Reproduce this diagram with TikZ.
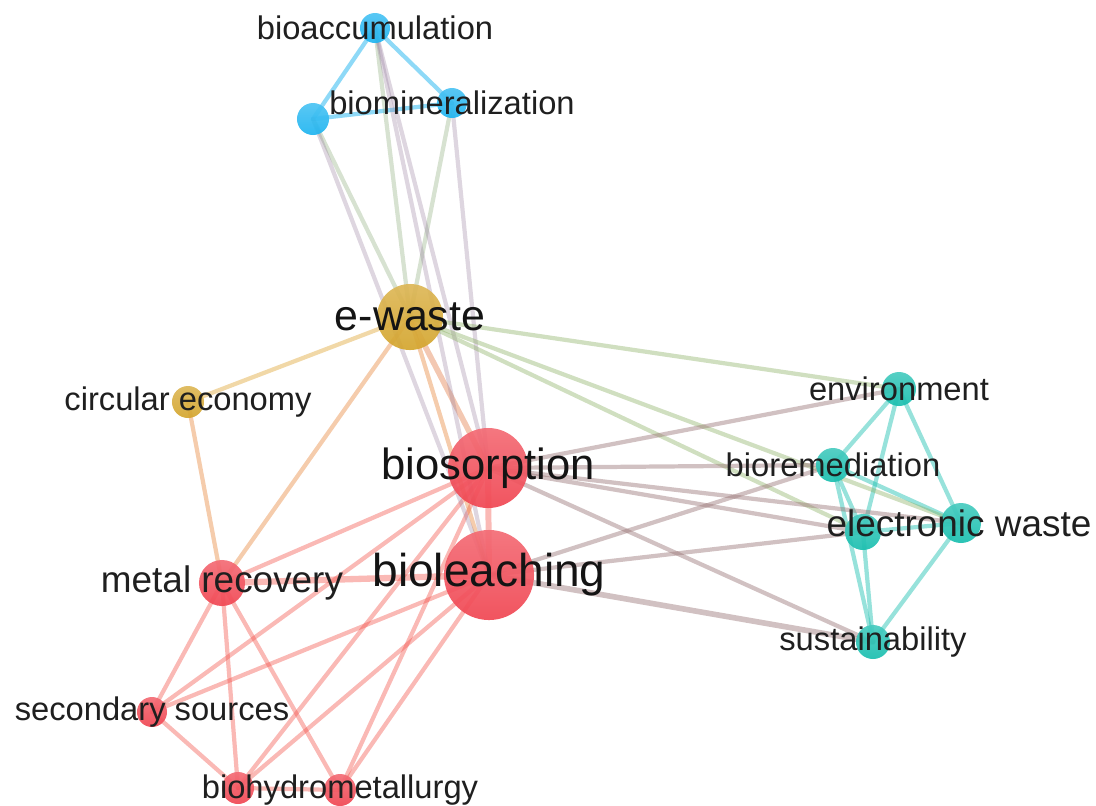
\documentclass[tikz,border=0pt]{standalone}
\usepackage{fontspec}
\setmainfont{Liberation Sans}
\usepackage{tikz}
\definecolor{kwred}{RGB}{240,70,82}
\definecolor{kwblue}{RGB}{30,180,240}
\definecolor{kwgold}{RGB}{212,165,45}
\definecolor{kwteal}{RGB}{25,190,175}

\tikzset{
  link/.style={line width=1.2pt, draw opacity=0.4, line cap=round},
  kw/.style={circle, inner sep=0pt, fill opacity=0.92},
  kwfill/.style={top color=#1!80!white, bottom color=#1},
  lbl/.style={font=\fontsize{9.3}{11}\selectfont, text=black!88},
  lblmid/.style={font=\fontsize{10.5}{12}\selectfont, text=black!88},
  lblbig/.style={font=\fontsize{12.4}{14}\selectfont, text=black!92}
}

\begin{document}
\begin{tikzpicture}[x=0.01cm, y=-0.01cm]
    \useasboundingbox (0,0) rectangle (1096,805);

    %% Keyword positions
    \coordinate (bacc) at (375,28);
    \coordinate (bmin) at (452,103);
    \coordinate (bhid) at (313,119);
    \coordinate (ewaste) at (410,317);
    \coordinate (circ) at (188,402);
    \coordinate (bsorp) at (488,468);
    \coordinate (bleach) at (489,575);
    \coordinate (mrec) at (222,583);
    \coordinate (secs) at (152,712);
    \coordinate (bhyd) at (340,790);
    \coordinate (bhydb) at (238,788);
    \coordinate (env) at (899,389);
    \coordinate (brem) at (833,465);
    \coordinate (ewst) at (961,523);
    \coordinate (ewstb) at (863,532);
    \coordinate (sust) at (873,642);

    %% Links inside clusters
    \foreach \a/\b in {bsorp/mrec, bsorp/secs, bsorp/bhyd, bsorp/bhydb, bleach/secs,
        bleach/bhyd, bleach/bhydb, mrec/secs, mrec/bhyd, mrec/bhydb, secs/bhydb, bhydb/bhyd}
        \draw[link, kwred!85!orange] (\a) -- (\b);
    \draw[link, kwred!85!orange, line width=1.7pt] (bsorp) -- (bleach);
    \draw[link, kwred!85!orange, line width=1.8pt] (bleach) -- (mrec);
    \foreach \a/\b in {bacc/bmin, bacc/bhid, bhid/bmin}
        \draw[link, kwblue, draw opacity=0.5] (\a) -- (\b);
    \foreach \a/\b in {env/brem, env/ewstb, env/ewst, brem/ewstb, brem/ewst,
        brem/sust, ewstb/ewst, ewstb/sust, ewst/sust}
        \draw[link, kwteal, draw opacity=0.45] (\a) -- (\b);
    \draw[link, kwgold!80!orange] (ewaste) -- (circ);

    %% Links between clusters
    \foreach \a/\b in {ewaste/bleach, ewaste/mrec, circ/mrec}
        \draw[link, kwred!40!kwgold!80!orange] (\a) -- (\b);
    \draw[link, kwred!50!kwgold, line width=1.6pt] (ewaste) -- (bsorp);
    \foreach \a/\b in {bhid/ewaste, bacc/ewaste, bmin/ewaste}
        \draw[link, kwblue!40!kwgold, draw opacity=0.35] (\a) -- (\b);
    \foreach \a/\b in {bhid/bleach, bacc/bsorp, bacc/bleach, bmin/bsorp}
        \draw[link, kwblue!45!kwred, draw opacity=0.3] (\a) -- (\b);
    \foreach \a/\b in {ewaste/env, ewaste/ewst, ewaste/ewstb}
        \draw[link, kwgold!60!kwteal] (\a) -- (\b);
    \foreach \a/\b in {bsorp/env, bsorp/brem, bsorp/ewst, bsorp/ewstb, bsorp/sust,
        bleach/brem, bleach/ewstb}
        \draw[link, kwred!60!kwteal, draw opacity=0.45] (\a) -- (\b);
    \draw[link, kwred!60!kwteal, draw opacity=0.45, line width=1.6pt] (bleach) -- (sust);

    %% Keyword circles
    \node[kw, kwfill=kwblue, minimum size=0.30cm] (nbacc) at (bacc) {};
    \node[kw, kwfill=kwblue, minimum size=0.30cm] (nbmin) at (bmin) {};
    \node[kw, kwfill=kwblue, minimum size=0.32cm] (nbhid) at (bhid) {};
    \node[kw, kwfill=kwgold, minimum size=0.66cm] (newaste) at (ewaste) {};
    \node[kw, kwfill=kwgold, minimum size=0.32cm] (ncirc) at (circ) {};
    \node[kw, kwfill=kwred, minimum size=0.80cm] (nbsorp) at (bsorp) {};
    \node[kw, kwfill=kwred, minimum size=0.90cm] (nbleach) at (bleach) {};
    \node[kw, kwfill=kwred, minimum size=0.46cm] (nmrec) at (mrec) {};
    \node[kw, kwfill=kwred, minimum size=0.30cm] (nsecs) at (secs) {};
    \node[kw, kwfill=kwred, minimum size=0.32cm] (nbhyd) at (bhyd) {};
    \node[kw, kwfill=kwred, minimum size=0.32cm] (nbhydb) at (bhydb) {};
    \node[kw, kwfill=kwteal, minimum size=0.34cm] (nenv) at (env) {};
    \node[kw, kwfill=kwteal, minimum size=0.34cm] (nbrem) at (brem) {};
    \node[kw, kwfill=kwteal, minimum size=0.40cm] (newst) at (ewst) {};
    \node[kw, kwfill=kwteal, minimum size=0.36cm] (newstb) at (ewstb) {};
    \node[kw, kwfill=kwteal, minimum size=0.34cm] (nsust) at (sust) {};

    %% Keyword labels
    \node[lbl] (tbacc) at (bacc) {bioaccumulation};
    \node[lbl] (tbmin) at (bmin) {biomineralization};
    \node[lblbig, font=\fontsize{12.2}{14}\selectfont] (tewaste) at (ewaste) {e-waste};
    \node[lbl] (tcirc) at (circ) {circular economy};
    \node[lblbig] (tbsorp) at (bsorp) {biosorption};
    \node[lblbig, font=\fontsize{13.1}{15}\selectfont] (tbleach) at (bleach) {bioleaching};
    \node[lblmid] (tmrec) at (mrec) {metal recovery};
    \node[lbl] (tsecs) at (secs) {secondary sources};
    \node[lbl] (tbhyd) at (bhyd) {biohydrometallurgy};
    \node[lbl] (tenv) at (env) {environment};
    \node[lbl] (tbrem) at (brem) {bioremediation};
    \node[lblmid] (tewst) at (959,523) {electronic waste};
    \node[lbl] (tsust) at (sust) {sustainability};
\end{tikzpicture}
\end{document}
